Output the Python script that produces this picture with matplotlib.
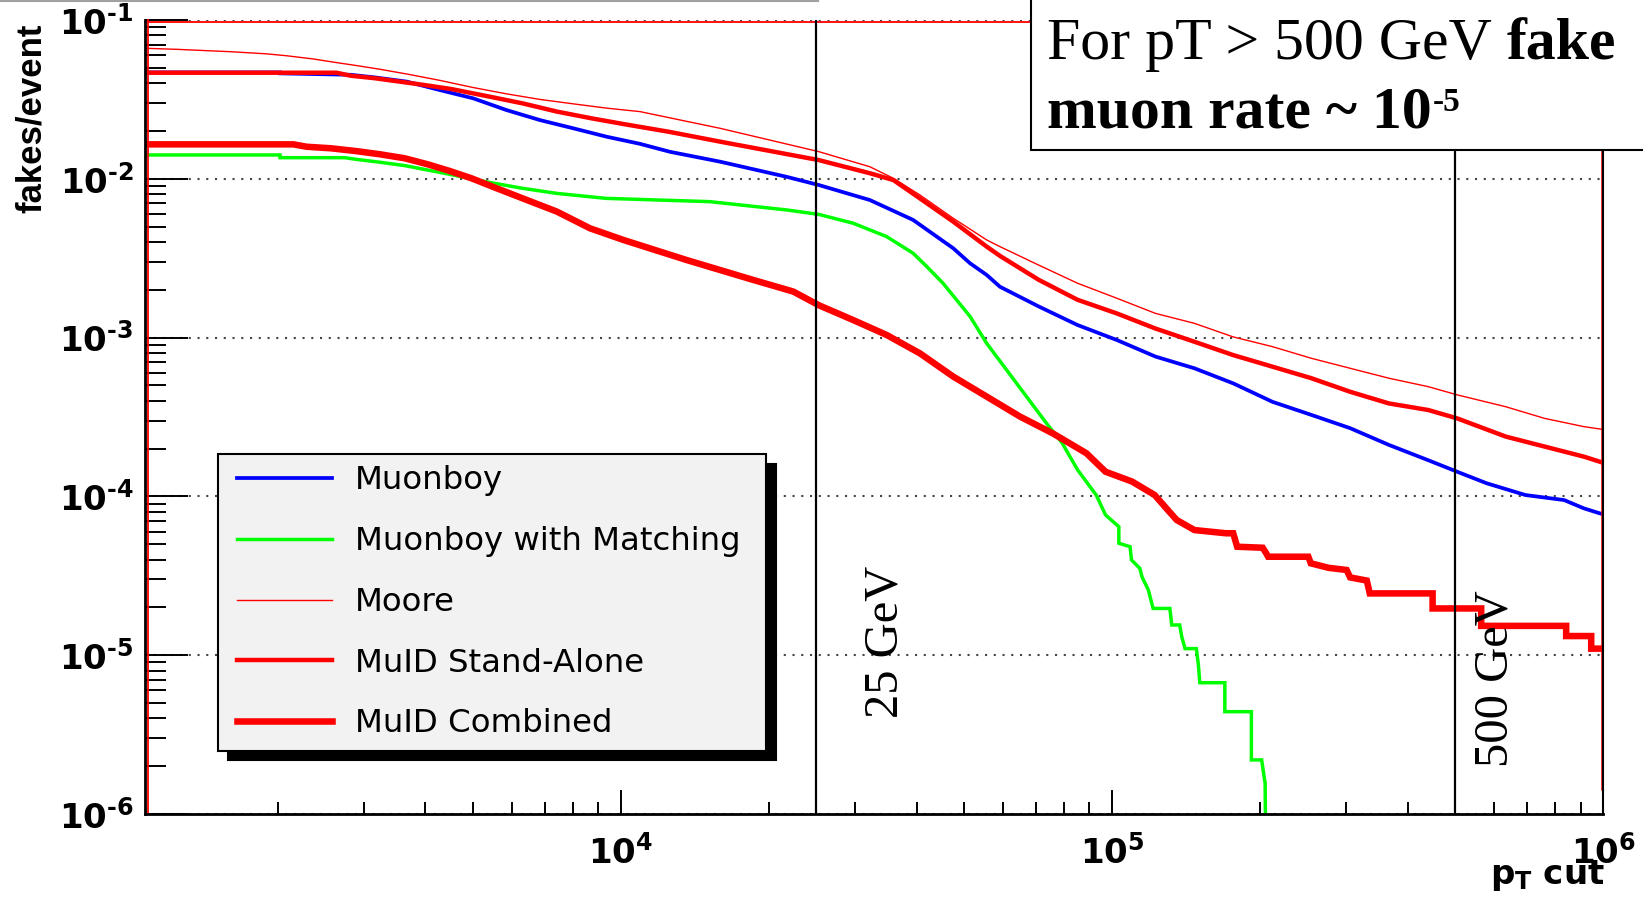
import numpy as np
import matplotlib
matplotlib.use("Agg")
import matplotlib.pyplot as plt
from matplotlib.ticker import LogLocator, NullFormatter
from matplotlib.transforms import ScaledTranslation
from matplotlib.patches import Rectangle
from matplotlib.lines import Line2D
from matplotlib.text import Annotation
from matplotlib.legend_handler import HandlerLine2D

plt.rcParams['mathtext.fontset'] = 'dejavusans'

# ---------------- data (pT cut in MeV, fakes/event) ----------------
series_names = ["Muonboy", "Muonboy with Matching", "Moore", "MuID Stand-Alone", "MuID Combined"]

muonboy_pt = [1074, 2023, 2023, 2818, 3162, 3664, 4276, 5000, 5848, 6839, 7998, 9354, 10940,
              12590, 15920, 21730, 25290, 32140, 39360, 43950, 47530, 51400, 55590, 59160,
              70960, 85110, 102300, 122700, 147200, 176600, 212300, 254700, 305500, 366400,
              440600, 504700, 579400, 695000, 833700, 914100, 1000000]
muonboy_rate = [0.04677, 0.04677, 0.04613, 0.04519, 0.04345, 0.04093, 0.03622, 0.03214, 0.02710,
                0.02344, 0.02080, 0.01841, 0.01660, 0.01479, 0.01282, 0.01030, 0.00914, 0.00735,
                0.00551, 0.00433, 0.00365, 0.00294, 0.00248, 0.00209, 0.00157, 0.00120, 0.000966,
                0.000759, 0.000641, 0.000515, 0.000394, 0.000326, 0.000269, 0.000211, 0.000169,
                0.000143, 0.000121, 0.000102, 9.48e-5, 8.41e-5, 7.71e-5]

matching_pt = [1074, 2023, 2023, 2742, 2884, 3236, 3631, 4046, 4487, 4966, 5546, 6310, 7413, 9333,
               15170, 21730, 25290, 29720, 34750, 39360, 41980, 45290, 51400, 55590, 65460, 73620,
               79250, 85110, 92900, 97050, 103300, 103300, 108900, 109600, 114000, 115100, 118600,
               121300, 131200, 132400, 137400, 138700, 140900, 148600, 150000, 151000, 169800,
               169800, 192300, 192300, 201800, 205100, 206100]
matching_rate = [0.01413, 0.01413, 0.01358, 0.01358, 0.01327, 0.01271, 0.01211, 0.01135, 0.01067,
                 0.00998, 0.00935, 0.00871, 0.00809, 0.00753, 0.00718, 0.00637, 0.00597, 0.00525,
                 0.00433, 0.00340, 0.00280, 0.00220, 0.00136, 0.000920, 0.000468, 0.000288,
                 0.000216, 0.000147, 0.000102, 7.64e-5, 6.44e-5, 5.07e-5, 4.82e-5, 3.98e-5,
                 3.52e-5, 3.12e-5, 2.58e-5, 1.97e-5, 1.97e-5, 1.55e-5, 1.55e-5, 1.31e-5, 1.10e-5,
                 1.10e-5, 8.67e-6, 6.71e-6, 6.71e-6, 4.41e-6, 4.41e-6, 2.19e-6, 2.19e-6, 1.56e-6,
                 3e-7]

moore_pt = [1074, 1253, 1611, 1897, 2084, 2360, 2594, 2897, 3228, 3664, 4276, 5000, 5848, 6839,
            7998, 9354, 10940, 15920, 25290, 32140, 35890, 40640, 47530, 55590, 59160, 70960,
            85110, 102300, 122700, 147200, 176600, 212300, 254700, 305500, 366400, 440600,
            504700, 633900, 760300, 914100, 1000000]
moore_rate = [0.06637, 0.06531, 0.06310, 0.06124, 0.05957, 0.05689, 0.05433, 0.05164, 0.04898,
              0.04571, 0.04169, 0.03758, 0.03428, 0.03162, 0.02965, 0.02786, 0.02649, 0.02080,
              0.01483, 0.01191, 0.01007, 0.00791, 0.00564, 0.00412, 0.00374, 0.00286, 0.00220,
              0.00177, 0.00142, 0.00123, 0.00101, 0.000877, 0.000741, 0.000641, 0.000555,
              0.000491, 0.000436, 0.000367, 0.000310, 0.000275, 0.000264]

sa_pt = [1074, 2636, 2818, 3162, 3467, 3890, 4519, 5408, 6310, 7413, 8710, 10120, 12590, 15920,
         25290, 32140, 35890, 40640, 47530, 55590, 59160, 70960, 85110, 102300, 122700, 147200,
         176600, 212300, 254700, 305500, 366400, 440600, 504700, 633900, 760300, 914100, 1000000]
sa_rate = [0.04656, 0.04656, 0.04457, 0.04295, 0.04130, 0.03936, 0.03673, 0.03289, 0.02985,
           0.02649, 0.02404, 0.02213, 0.01972, 0.01714, 0.01312, 0.01084, 0.00982, 0.00753,
           0.00537, 0.00374, 0.00327, 0.00231, 0.00173, 0.00142, 0.00114, 0.000942, 0.000776,
           0.000656, 0.000555, 0.000456, 0.000385, 0.000350, 0.000310, 0.000238, 0.000206,
           0.000178, 0.000163]

comb_pt = [1074, 2153, 2291, 2570, 2884, 3236, 3631, 4046, 4487, 4966, 5546, 6310, 7413, 8650,
           10120, 13610, 18580, 22440, 25290, 29720, 34750, 40640, 47530, 55590, 65010, 75860,
           88720, 97050, 109900, 122200, 130000, 135500, 147200, 170600, 176600, 179900, 202800,
           206100, 208000, 251200, 254100, 276100, 300600, 305500, 330400, 335000, 449800,
           449800, 564900, 564900, 841400, 841400, 946200, 946200, 1000000]
comb_rate = [0.01648, 0.01648, 0.01592, 0.01556, 0.01496, 0.01426, 0.01346, 0.01233, 0.01119,
             0.01007, 0.00879, 0.00753, 0.00621, 0.00488, 0.00412, 0.00308, 0.00231, 0.00195,
             0.00160, 0.00129, 0.00104, 0.000796, 0.000568, 0.000425, 0.000318, 0.000249,
             0.000187, 0.000143, 0.000124, 0.000102, 8.20e-5, 7.10e-5, 6.14e-5, 5.86e-5,
             5.86e-5, 4.82e-5, 4.75e-5, 4.39e-5, 4.17e-5, 4.17e-5, 3.79e-5, 3.55e-5, 3.44e-5,
             3.09e-5, 2.95e-5, 2.45e-5, 2.45e-5, 1.97e-5, 1.97e-5, 1.53e-5, 1.53e-5, 1.32e-5,
             1.32e-5, 1.10e-5, 1.10e-5]

cut_values = [25000, 500000]
cut_labels = ["25 GeV", "500 GeV"]

x_limits = [1074, 1000000]
y_limits = [1e-6, 1e-1]
y_ticks = [1e-6, 1e-5, 1e-4, 1e-3, 1e-2, 1e-1]
y_tick_labels = ["$\\mathbf{10^{\u20106}}$", "$\\mathbf{10^{\u20105}}$", "$\\mathbf{10^{\u20104}}$",
                 "$\\mathbf{10^{\u20103}}$", "$\\mathbf{10^{\u20102}}$", "$\\mathbf{10^{\u20101}}$"]
x_ticks = [1e4, 1e5, 1e6]
x_tick_labels = [r"$\mathbf{10^{4}}$", r"$\mathbf{10^{5}}$", r"$\mathbf{10^{6}}$"]

# ---------------- figure ----------------
W, H = 1643, 899
fig = plt.figure(figsize=(W / 100, H / 100), dpi=100)
ax = fig.add_axes([145 / W, 1 - 814 / H, (1603 - 145) / W, (814 - 20) / H])
ax.set_xscale('log')
ax.set_yscale('log')
ax.set_xlim(*x_limits)
ax.set_ylim(*y_limits)

styles = [dict(color='#0000ff', lw=2.7),
          dict(color='#00ff00', lw=2.5),
          dict(color='#ff0000', lw=1.0),
          dict(color='#ff0000', lw=3.2),
          dict(color='#ff0000', lw=4.7)]
data = [(muonboy_pt, muonboy_rate), (matching_pt, matching_rate), (moore_pt, moore_rate),
        (sa_pt, sa_rate), (comb_pt, comb_rate)]
handles = []
for (xs, ys), name, st in zip(data, series_names, styles):
    h, = ax.plot(xs, ys, label=name, zorder=2, solid_joinstyle='miter', **st)
    handles.append(h)

# cut lines and their labels
for cv in cut_values:
    ax.axvline(cv, color='black', lw=1.6, zorder=3)
ax.text(34650, 4.03e-6, cut_labels[0], rotation=90, ha='center', va='bottom',
        family='Liberation Serif', fontsize=35, zorder=4)
ax.text(605000, 1.98e-6, cut_labels[1], rotation=90, ha='center', va='bottom',
        family='Liberation Serif', fontsize=35, zorder=4)

# red histogram frame lines
px = lambda dx, dy: ScaledTranslation(dx / 100, dy / 100, fig.dpi_scale_trans)
ax.add_line(Line2D([0, 0], [0, 1], transform=ax.transAxes + px(2.5, 0), color='red', lw=1.3,
                   clip_on=False, zorder=2.5))
ax.add_line(Line2D([0, 1], [1, 1], transform=ax.transAxes + px(0, -2.0), color='red', lw=1.3,
                   clip_on=False, zorder=2.5))
ax.add_line(Line2D([1, 1], [0.032, 1], transform=ax.transAxes + px(-1.5, 0), color='red', lw=1.8,
                   clip_on=False, zorder=2.5))

# axes styling
for s in ['left', 'bottom']:
    ax.spines[s].set_linewidth(2.0)
ax.spines['right'].set_linewidth(1.5)
ax.spines['top'].set_visible(False)

ax.set_yticks(y_ticks, y_tick_labels)
ax.set_xticks(x_ticks, x_tick_labels)
ax.yaxis.set_minor_locator(LogLocator(base=10, subs=np.arange(2, 10), numticks=50))
ax.xaxis.set_minor_locator(LogLocator(base=10, subs=np.arange(2, 10), numticks=50))
ax.yaxis.set_minor_formatter(NullFormatter())
ax.xaxis.set_minor_formatter(NullFormatter())
ax.tick_params(axis='y', which='major', direction='in', length=31, width=1.4, left=True,
               right=False, labelsize=24.5, pad=8.2)
ax.tick_params(axis='y', which='minor', direction='in', length=15, width=1.4, left=True,
               right=False)
ax.tick_params(axis='x', which='major', direction='in', length=17, width=1.4, bottom=True,
               top=False, labelsize=24.5, pad=15)
ax.tick_params(axis='x', which='minor', direction='in', length=8.6, width=1.4, bottom=True,
               top=False)
ax.yaxis.grid(True, which='major', linestyle=(0, (1, 3.2)), color='#444444', linewidth=1.5)
ax.xaxis.grid(False)

ax.set_ylabel('fakes/event', loc='top', fontsize=25, fontweight='bold', family='Liberation Sans')
ax.yaxis.set_label_coords(-0.0665, 0.996)
ax.set_xlabel(r'$\mathbf{p_{T}\ cut}$', loc='right', fontsize=24.5)
ax.xaxis.set_label_coords(1.0014, -0.0553)


# legend (line segment starts a little inside the handle box, as in the original)
class ShiftedLine(HandlerLine2D):
    def __init__(self, shift, **kw):
        super().__init__(**kw)
        self.shift = shift

    def create_artists(self, legend, orig_handle, xdescent, ydescent, width, height,
                       fontsize, trans):
        return super().create_artists(legend, orig_handle, xdescent - self.shift, ydescent,
                                      width - self.shift, height, fontsize, trans)


leg = ax.legend(handles=handles, loc='upper left',
                bbox_to_anchor=(218 / W, 1 - 454 / H - 0.33, (766 - 218) / W, 0.33),
                bbox_transform=fig.transFigure, mode='expand', borderaxespad=0,
                frameon=True, fancybox=False, edgecolor='black', facecolor='#f2f2f2',
                framealpha=1, shadow={'ox': 7, 'oy': -7, 'color': 'black', 'alpha': 1},
                prop={'family': 'DejaVu Sans', 'size': 23.3}, handlelength=3.17,
                handletextpad=0.71, labelspacing=0.92, borderpad=0.35,
                handler_map={Line2D: ShiftedLine(5.5)})
leg.get_frame().set_linewidth(1.5)
leg.set_zorder(6)

# top-left grey slide line
fig.add_artist(Line2D([0, 818 / W], [1 - 1 / H, 1 - 1 / H], color='#a0a0a0', lw=1.5,
                      transform=fig.transFigure))

# note box at top right
fig.add_artist(Rectangle((1031 / W, 1 - 150 / H), 0.5, 0.3, transform=fig.transFigure,
                         facecolor='white', edgecolor='black', lw=1.5, zorder=5))
t1 = fig.text(1047 / W, 1 - 59 / H, 'For pT > 500 GeV', family='Liberation Serif',
              fontsize=43, va='baseline', ha='left', zorder=6)
a1 = Annotation('fake', xy=(1, 0), xycoords=t1, xytext=(10.5, 0), textcoords='offset points',
                va='bottom', ha='left', family='Liberation Serif', fontweight='bold',
                fontsize=43, annotation_clip=False)
a1.set_zorder(7)
fig.add_artist(a1)
t2 = fig.text(1047 / W, 1 - 127 / H, 'muon rate ~ 10', family='Liberation Serif',
              fontweight='bold', fontsize=43, va='baseline', ha='left', zorder=6)
a2 = Annotation('-5', xy=(1, 1), xycoords=t2, xytext=(1, -1), textcoords='offset points',
                va='top', ha='left', family='Liberation Serif', fontweight='bold', fontsize=24,
                annotation_clip=False)
a2.set_zorder(7)
fig.add_artist(a2)

fig.savefig('out.png', dpi=100)
